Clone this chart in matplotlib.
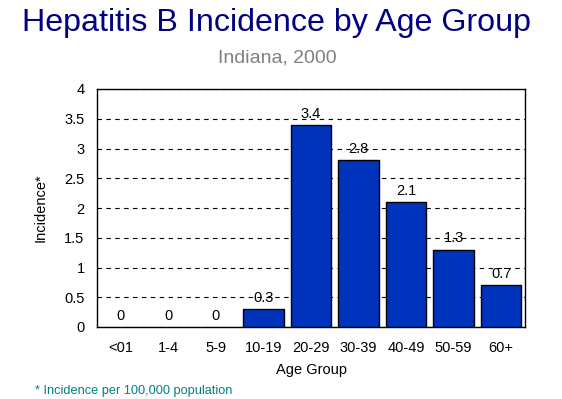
import numpy as np
import matplotlib.pyplot as plt

plt.rcParams['font.family'] = ['Liberation Sans', 'DejaVu Sans']

age_groups = ["<01", "1-4", "5-9", "10-19", "20-29", "30-39", "40-49", "50-59", "60+"]
incidence = [0, 0, 0, 0.3, 3.4, 2.8, 2.1, 1.3, 0.7]

fig = plt.figure(figsize=(5.62, 3.99), dpi=100)
ax = fig.add_axes([97/562, 1 - 327/399, 428/562, 238/399])

x = np.arange(len(age_groups))
edges = ["black" if v > 0 else "none" for v in incidence]
ax.bar(x, incidence, width=0.85, color="#0033bb", edgecolor=edges, linewidth=1, zorder=3)
for xi, v in zip(x, incidence):
    ax.text(xi, v + 0.07, f"{v:g}", ha="center", va="bottom", fontsize=10.5, zorder=4)

ax.set_xlim(-0.5, len(age_groups) - 0.5)
ax.set_ylim(0, 4)
ax.set_yticks(np.arange(0, 4.01, 0.5))
ax.set_yticklabels([f"{t:g}" for t in np.arange(0, 4.01, 0.5)])
ax.set_xticks(x)
ax.set_xticklabels(age_groups)
ax.tick_params(axis="x", length=0, labelsize=10.5, pad=10)
ax.tick_params(axis="y", length=0, labelsize=10.5, pad=9)
ax.yaxis.grid(True, linestyle=(0, (4, 4)), color="black", linewidth=0.8, zorder=0)
for s in ax.spines.values():
    s.set_linewidth(1)
ax.set_xlabel("Age Group", fontsize=10.5, labelpad=6)
ax.set_ylabel("Incidence*", fontsize=10.5, labelpad=12)

fig.text(276/562, 1 - 23/399, "Hepatitis B Incidence by Age Group", ha="center", va="center",
         fontsize=23.2, color="#000080")
fig.text(277/562, 1 - 58/399, "Indiana, 2000", ha="center", va="center", fontsize=14, color="#808080")
fig.text(35/562, 1 - 391/399, "* Incidence per 100,000 population", ha="left", va="center",
         fontsize=9.2, color="#008080")

fig.savefig("out.png", dpi=100)
